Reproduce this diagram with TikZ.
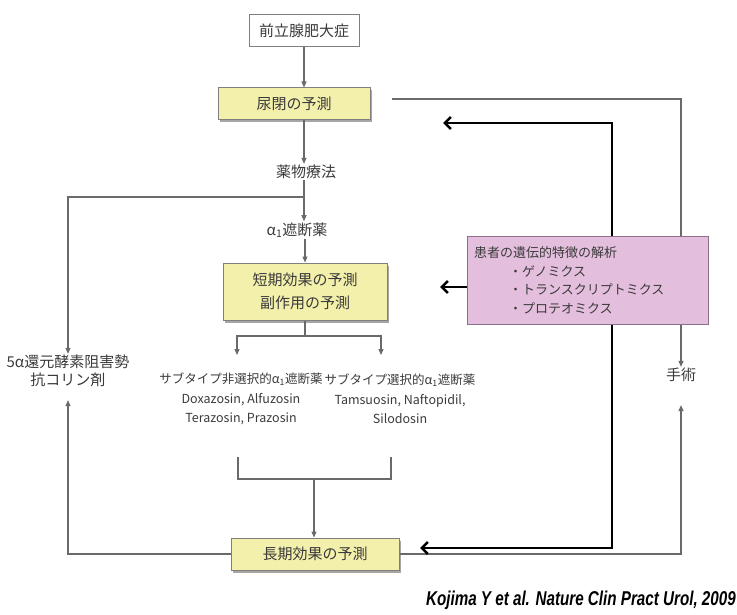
\documentclass[tikz,border=0pt]{standalone}
\usepackage{fontspec}
\usepackage{graphicx}
\setmainfont{Noto Sans CJK JP}
\newfontfamily\citefont{Liberation Sans}
\usetikzlibrary{arrows.meta,shadows,calc}
\definecolor{txt}{HTML}{3A3A3A}
\definecolor{boxline}{HTML}{7F7F7F}
\definecolor{yel}{HTML}{F3F0AC}
\definecolor{pnk}{HTML}{E4BEDD}
\definecolor{pnkline}{HTML}{8C7088}
\definecolor{thin}{HTML}{6A6A6A}
\begin{document}
\begin{tikzpicture}[x=1pt,y=-1pt,
  every node/.style={text=txt,font=\fontsize{15}{23}\selectfont},
  plainbox/.style={draw=boxline,line width=1pt,fill=white,minimum width=110pt,minimum height=32pt,inner sep=0pt},
  yelbox/.style={draw=boxline,line width=1pt,fill=yel,inner sep=0pt,align=center,
    drop shadow={shadow xshift=2pt,shadow yshift=-2.5pt,fill=black,opacity=0.35}},
  pinkbox/.style={draw=pnkline,line width=1pt,fill=pnk,align=left,inner xsep=7pt,inner ysep=0pt,
    font=\fontsize{13}{18.5}\selectfont},
  lbl/.style={inner sep=1pt,align=center},
  sublbl/.style={inner sep=1pt,align=center,font=\fontsize{12.5}{19.5}\selectfont},
  thinline/.style={draw=thin,line width=1.1pt},
  thinarrow/.style={thinline,-{Triangle[length=6pt,width=5pt]}},
  thickarrow/.style={draw=black,line width=2.6pt,line join=miter,-{Straight Barb[length=6pt,width=12pt]}},
]
\useasboundingbox (0,0) rectangle (737,615);

% main column
\node[plainbox] (bph) at (304,31) {前立腺肥大症};
\node[yelbox,minimum width=152pt,minimum height=32pt] (urei) at (294,104) {尿閉の予測};
\node[lbl] (yaku) at (306,172) {薬物療法};
\node[lbl] (alpha) at (297,230) {α\textsubscript{1}遮断薬};
\node[yelbox,minimum width=164pt,minimum height=57pt] (tanki) at (305,291.5) {短期効果の予測\\副作用の予測};
\node[sublbl] (hisen) at (241,399) {サブタイプ非選択的α\textsubscript{1}遮断薬\\Doxazosin, Alfuzosin\\Terazosin, Prazosin};
\node[sublbl] (sen) at (400,399) {サブタイプ選択的α\textsubscript{1}遮断薬\\Tamsuosin, Naftopidil,\\Silodosin};
\node[yelbox,minimum width=168pt,minimum height=32pt] (choki) at (315,554) {長期効果の予測};
\node[lbl,font=\fontsize{15}{18}\selectfont] (kozo) at (68,371) {5α還元酵素阻害勢\\抗コリン剤};
\node[lbl] (shu) at (681,375) {手術};

% coordinates
\coordinate (j1) at (304,197);
\coordinate (br) at (305,336);
\coordinate (ta1) at (237,355);
\coordinate (ta2) at (381,355);
\coordinate (bk1) at (238,457);
\coordinate (bk2) at (391,457);
\coordinate (bkm) at (314,479);
\coordinate (s1) at (392,99);
\coordinate (tx) at (612,0);
\coordinate (t1) at (443,123);
\coordinate (t2) at (440,287);
\coordinate (t3) at (420,548);

% thin connectors
\draw[thinarrow] (bph.south -| j1) -- (urei.north -| j1);
\draw[thinarrow] (urei.south -| j1) -- (yaku.north -| j1);
\draw[thinarrow] (yaku.south -| j1) -- (alpha.north -| j1);
\draw[thinarrow] (j1) -| (kozo.north);
\draw[thinarrow] (alpha.south -| br) -- (tanki.north -| br);
\draw[thinline] (tanki.south -| br) -- (br);
\draw[thinarrow] (br) -| (ta1);
\draw[thinarrow] (br) -| (ta2);
\draw[thinline] (bk1) |- (bkm) -| (bk2);
\draw[thinarrow] (bkm) -- (choki.north -| bkm);
\draw[thinarrow,shorten >=12pt] (choki.west) -| (kozo.south);
\draw[thinarrow] (s1) -| (shu.north);
\draw[thinarrow,shorten >=22pt] (choki.east) -| (shu.south);

% genetic analysis box
\node[pinkbox,text width=227pt,minimum height=87pt] (pink) at (587.5,280.5)
  {患者の遺伝的特徴の解析\\
   \hspace*{35pt}・ゲノミクス\\
   \hspace*{35pt}・トランスクリプトミクス\\
   \hspace*{35pt}・プロテオミクス};

% thick feedback arrows
\draw[thickarrow] (pink.north -| tx) |- (t1);
\draw[thickarrow] (t2 -| pink.west) -- (t2);
\draw[thickarrow] (pink.south -| tx) |- (t3);

% citation
\node[anchor=base east,inner sep=0pt,text=black] (cite) at (736,605)
  {\scalebox{0.76}[1]{\citefont\fontsize{20}{20}\selectfont\bfseries\itshape Kojima Y et al. Nature Clin Pract Urol, 2009}};
\end{tikzpicture}
\end{document}
